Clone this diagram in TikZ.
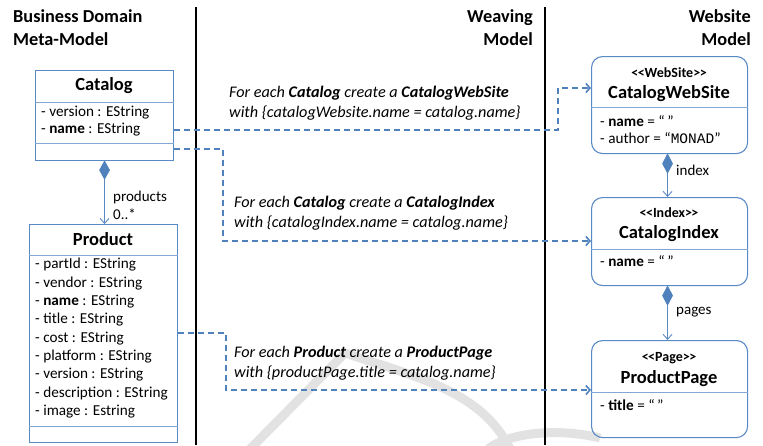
\documentclass[tikz,border=0pt]{standalone}
\usepackage{fontspec}
\setmainfont{Carlito}
\newfontfamily\valuefont{Liberation Mono}
\usetikzlibrary{arrows.meta}
\definecolor{umlblue}{HTML}{4F81BD}
\definecolor{umlline}{HTML}{5A8AC6}
\definecolor{wmark}{HTML}{E2E2E2}
\newcommand{\stereotype}[1]{\textless\kern-0.5pt\textless#1\textgreater\kern-0.5pt\textgreater}
\begin{document}
\begin{tikzpicture}[x=1pt,y=-1pt,
  umlbox/.style={draw=umlline, line width=1.1pt, inner sep=0pt, anchor=north west},
  webbox/.style={umlbox, rounded corners=11pt},
  divider/.style={draw=umlline!75, line width=0.9pt},
  attr/.style={anchor=west, inner sep=0pt, font=\fontsize{15.2}{16}\selectfont},
  cname/.style={inner sep=0pt, font=\bfseries\fontsize{18.5}{20}\selectfont},
  stereo/.style={inner sep=0pt, font=\bfseries\fontsize{14}{15}\selectfont},
  heading/.style={inner sep=0pt, font=\bfseries\fontsize{18.3}{23}\selectfont},
  rule/.style={inner sep=0pt, anchor=west, align=left, font=\itshape\fontsize{16.2}{20}\selectfont},
  composite/.style={fill=umlblue, draw=umlblue, line width=0.6pt},
  assoc/.style={draw=umlline, line width=0.9pt, -{Straight Barb[length=5pt,width=9pt]}},
  weave/.style={draw=umlblue, line width=1.8pt, dash pattern=on 6pt off 4pt,
    -{Straight Barb[length=4pt,width=9pt,line width=1.6pt]}},
  rolelabel/.style={anchor=west, inner sep=0pt, font=\fontsize{15}{16}\selectfont},
  sep/.style={draw=black, line width=1.4pt},
  emblem/.style={draw=wmark, line width=9pt}
]
\useasboundingbox (0,0) rectangle (763,445);

% faint background emblem
\draw[emblem, line join=miter] (250,449) -- (345,353) .. controls (420,378) and (482,392) .. (510,449);
\draw[emblem] (488,449) .. controls (510,432) and (560,428) .. (600,438);

% column separators
\draw[sep] (196,7) -- (196,445);
\draw[sep] (545,7) -- (545,445);

% column headings
\node[heading, anchor=north west, align=left] (hdomain) at (13,9) {Business Domain\\Meta-Model};
\node[heading, anchor=north east, align=right] (hweave) at (533,9) {Weaving\\Model};
\node[heading, anchor=north east, align=right] (hsite) at (751,9) {Website\\Model};

% ---- business domain classes ----
\node[umlbox, minimum width=138pt, minimum height=90pt] (catalog) at (35,70) {};
\node[cname] (catname-h) at (104,86) {Catalog};
\draw[divider] ([yshift=-32pt]catalog.north west) -- ([yshift=-32pt]catalog.north east);
\draw[divider] ([yshift=18pt]catalog.south west) -- ([yshift=18pt]catalog.south east);
\node[attr] (catver) at (41,113) {- version : EString};
\node[attr] (catname) at (41,130) {- \textbf{name} : EString};

\node[umlbox, minimum width=148pt, minimum height=218pt] (product) at (29,224) {};
\node[cname] (prodname-h) at (103,239) {Product};
\draw[divider] ([yshift=-31pt]product.north west) -- ([yshift=-31pt]product.north east);
\draw[divider] ([yshift=17pt]product.south west) -- ([yshift=17pt]product.south east);
\node[attr] (p1) at (35,265) {- partId : EString};
\node[attr] (p2) at (35,283.3) {- vendor : EString};
\node[attr] (p3) at (35,301.6) {- \textbf{name} : EString};
\node[attr] (p4) at (35,319.9) {- title : EString};
\node[attr] (p5) at (35,338.2) {- cost : EString};
\node[attr] (p6) at (35,356.5) {- platform : EString};
\node[attr] (p7) at (35,374.8) {- version : EString};
\node[attr] (p8) at (35,393.1) {- description : EString};
\node[attr] (p9) at (35,411.4) {- image : Estring};

% composition Catalog -> Product
\coordinate (catdia) at (catalog.south);
\draw[composite] (catdia) -- ++(5,9) -- ++(-5,9) -- ++(-5,-9) -- cycle;
\draw[assoc] ([yshift=-18pt]catdia) -- (product.north -| catdia);
\node[rolelabel] (products) at (113,197) {products};
\node[rolelabel] (mult) at (113,214) {0..*};

% ---- website model classes ----
\node[webbox, minimum width=156pt, minimum height=97pt] (website) at (591,56) {};
\node[stereo] (ws-st) at (669,73) {\stereotype{WebSite}};
\node[cname] (ws-name) at (669,93.5) {CatalogWebSite};
\draw[divider] ([yshift=-51pt]website.north west) -- ([yshift=-51pt]website.north east);
\node[attr] (ws-a1) at (600,121) {- \textbf{name} = “\,”};
\node[attr] (ws-a2) at (600,138) {- author = “{\valuefont\fontsize{14.5}{15}\selectfont MONAD}”};

\node[webbox, minimum width=156pt, minimum height=88pt] (index) at (591,197) {};
\node[stereo] (ix-st) at (669,213) {\stereotype{Index}};
\node[cname] (ix-name) at (669,233.5) {CatalogIndex};
\draw[divider] ([yshift=-52pt]index.north west) -- ([yshift=-52pt]index.north east);
\node[attr] (ix-a1) at (600,261) {- \textbf{name} = “\,”};

\node[webbox, minimum width=156pt, minimum height=97pt] (page) at (591,340) {};
\node[stereo] (pg-st) at (669,358) {\stereotype{Page}};
\node[cname] (pg-name) at (669,378.5) {ProductPage};
\draw[divider] ([yshift=-52pt]page.north west) -- ([yshift=-52pt]page.north east);
\node[attr] (pg-a1) at (600,405) {- \textbf{title} = “\,”};

% compositions on the website side
\coordinate (wsdia) at ([xshift=-2pt]website.south);
\draw[composite] (wsdia) -- ++(5,9.5) -- ++(-5,9.5) -- ++(-5,-9.5) -- cycle;
\draw[assoc] ([yshift=-19pt]wsdia) -- (index.north -| wsdia);
\node[rolelabel] (idxrole) at (676,170) {index};

\coordinate (ixdia) at ([xshift=-2pt]index.south);
\draw[composite] (ixdia) -- ++(5,9.5) -- ++(-5,9.5) -- ++(-5,-9.5) -- cycle;
\draw[assoc] ([yshift=-19pt]ixdia) -- (page.north -| ixdia);
\node[rolelabel] (pgrole) at (676,312) {pages};

% ---- weaving rules ----
\node[rule] (r1) at (229,103) {For each \textbf{Catalog} create a \textbf{CatalogWebSite}\\with \{catalogWebsite.name = catalog.name\}};
\node[rule] (r2) at (234,213) {For each \textbf{Catalog} create a \textbf{CatalogIndex}\\with \{catalogIndex.name = catalog.name\}};
\node[rule] (r3) at (234,363) {For each \textbf{Product} create a \textbf{ProductPage}\\with \{productPage.title = catalog.name\}};

\coordinate (wsin) at ([yshift=-32pt]website.north west);
\coordinate (ixin) at ([yshift=-44pt]index.north west);
\coordinate (pgin) at ([yshift=-50pt]page.north west);
\coordinate (catlink) at ([yshift=12pt]catalog.south east);
\coordinate (prodlink) at ([yshift=0.6pt]product.east);
\coordinate (prodbend) at ([xshift=48pt]prodlink);

\draw[weave] (catname -| catalog.east) -- ++(384,0) |- (wsin);
\draw[weave] (catlink) -- ++(49,0) |- (ixin);
\draw[weave] (prodlink) -- (prodbend) |- (pgin);
\end{tikzpicture}
\end{document}
